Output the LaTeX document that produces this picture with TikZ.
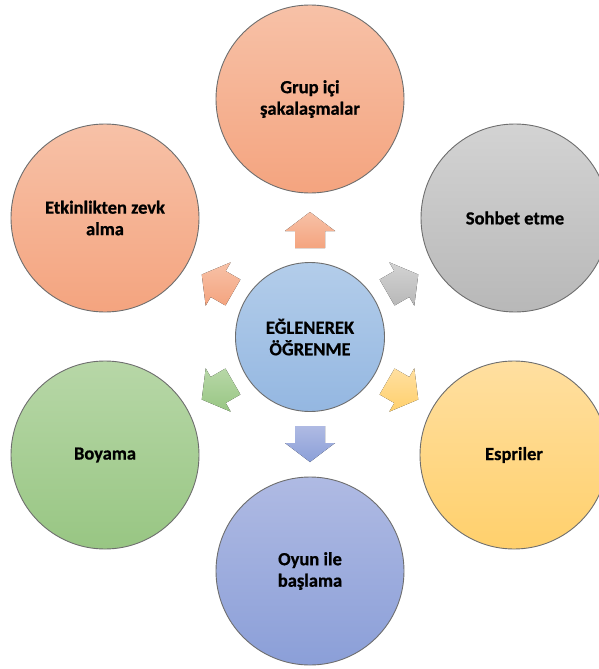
\documentclass[tikz,border=0pt]{standalone}
\usepackage{fontspec}
\setmainfont{Carlito}[BoldFeatures={FakeBold=0.7}]
\usetikzlibrary{calc}
\definecolor{salT}{HTML}{F7C1A7}
\definecolor{salB}{HTML}{F4A47F}
\definecolor{grayT}{HTML}{D3D3D3}
\definecolor{grayB}{HTML}{B8B8B8}
\definecolor{yelT}{HTML}{FFDFA0}
\definecolor{yelB}{HTML}{FFD06C}
\definecolor{bluT}{HTML}{AFBAE3}
\definecolor{bluB}{HTML}{8B9FD8}
\definecolor{grnT}{HTML}{B7D7A7}
\definecolor{grnB}{HTML}{98C683}
\definecolor{cenT}{HTML}{B3CDEA}
\definecolor{cenB}{HTML}{94B7E1}
\definecolor{rim}{HTML}{6E6E6E}
\tikzset{
  bubble/.style={circle, draw=rim, line width=0.9pt, minimum size=188pt, inner sep=0pt,
    align=center, font=\fontsize{18.5}{21.5}\selectfont\bfseries, text=black},
  blockarrow/.style={draw=none},
}
\newcommand{\blockarr}[3]{% angle, topcolor, bottomcolor
  \begin{scope}[shift={($(c)+({107*cos(#1)},{-107*sin(#1)})$)}, rotate=#1]
    \fill[blockarrow, top color=#2, bottom color=#3]
      (-18,-15) -- (-1,-15) -- (-1,-25) -- (18,0) -- (-1,25) -- (-1,15) -- (-18,15) -- cycle;
  \end{scope}}
\begin{document}
\begin{tikzpicture}[x=1pt,y=-1pt]
\useasboundingbox[fill=white] (0,0) rectangle (599,669);
\node[bubble, minimum size=149pt, top color=cenT, bottom color=cenB] (c) at (310,337) {EĞLENEREK\\ÖĞRENME};
\node[bubble, top color=salT, bottom color=salB] (n1) at (310,99) {Grup içi\\şakalaşmalar};
\node[bubble, top color=grayT, bottom color=grayB] (n2) at (515,218) {Sohbet etme};
\node[bubble, top color=yelT, bottom color=yelB] (n3) at (514,455) {Espriler};
\node[bubble, top color=bluT, bottom color=bluB] (n4) at (310,571) {Oyun ile\\başlama};
\node[bubble, top color=grnT, bottom color=grnB] (n5) at (105,455) {Boyama};
\node[bubble, top color=salT, bottom color=salB] (n6) at (105,218) {Etkinlikten zevk\\alma};
\blockarr{90}{salT}{salB}
\blockarr{30}{grayT}{grayB}
\blockarr{-30}{yelT}{yelB}
\blockarr{-90}{bluT}{bluB}
\blockarr{-150}{grnT}{grnB}
\blockarr{150}{salT}{salB}
\end{tikzpicture}
\end{document}
